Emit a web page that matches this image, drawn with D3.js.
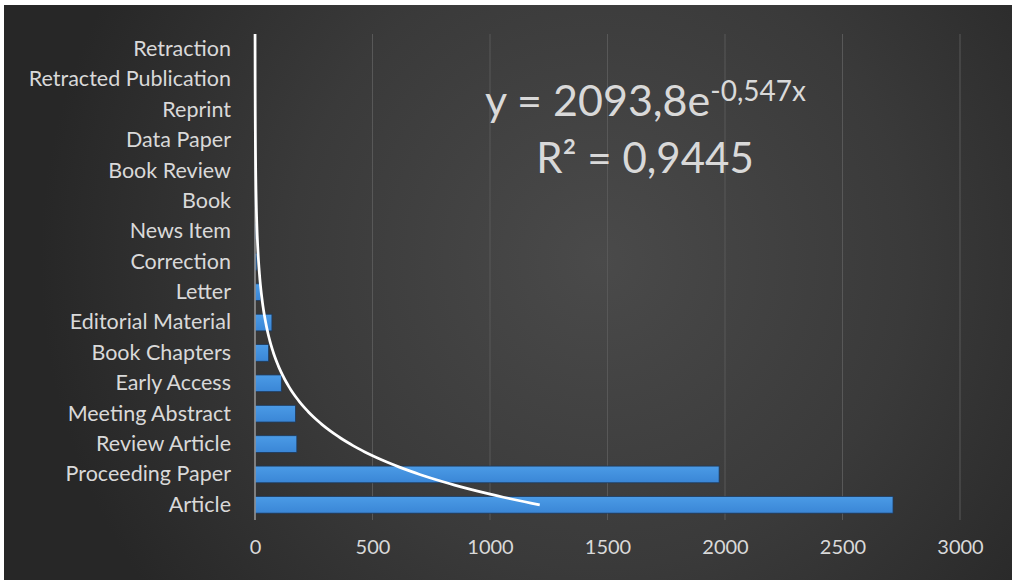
<!DOCTYPE html>
<html>
<head>
<meta charset="utf-8">
<script src="https://cdn.jsdelivr.net/npm/d3@7/dist/d3.min.js"></script>
<style>
  html, body { margin: 0; padding: 0; background: #ffffff; }
  svg { display: block; }
</style>
</head>
<body>
<svg id="chart" width="1012" height="580"></svg>
<script>
// ---- data ----
const categories = [
  "Article", "Proceeding Paper", "Review Article", "Meeting Abstract",
  "Early Access", "Book Chapters", "Editorial Material", "Letter",
  "Correction", "News Item", "Book", "Book Review", "Data Paper",
  "Reprint", "Retracted Publication", "Retraction"
];
const counts = [2715, 1975, 178, 172, 112, 58, 72, 24, 8, 6, 5, 4, 3, 2, 1, 1];
const xTicks = [0, 500, 1000, 1500, 2000, 2500, 3000];
const trendA = 2093.8;
const trendB = -0.547;
const r2 = "0,9445";

const svg = d3.select("#chart");
const W = 1012, H = 580;

// background with radial gradient
const defs = svg.append("defs");
const rg = defs.append("radialGradient").attr("id", "bg")
  .attr("gradientUnits", "userSpaceOnUse")
  .attr("cx", 600).attr("cy", 260).attr("r", 560);
rg.append("stop").attr("offset", "0%").attr("stop-color", "#4a4a4a");
rg.append("stop").attr("offset", "55%").attr("stop-color", "#3a3a3a");
rg.append("stop").attr("offset", "100%").attr("stop-color", "#272727");

const barGrad = defs.append("linearGradient").attr("id", "barg")
  .attr("x1", 0).attr("y1", 0).attr("x2", 0).attr("y2", 1);
barGrad.append("stop").attr("offset", "0%").attr("stop-color", "#4b9be6");
barGrad.append("stop").attr("offset", "100%").attr("stop-color", "#3a86d6");

svg.append("rect").attr("x", 0).attr("y", 0).attr("width", W).attr("height", H).attr("fill", "#ffffff");
svg.append("rect").attr("x", 4).attr("y", 5).attr("width", W - 4).attr("height", H - 5).attr("fill", "url(#bg)");

const x = d3.scaleLinear().domain([0, 3000]).range([255, 960]);
const y = d3.scaleBand().domain(categories).range([520, 34]).paddingInner(0.45).paddingOuter(0.225);
const yTop = 34, yBot = 520;

// gridlines
svg.append("g").selectAll("line").data(xTicks.slice(1)).join("line")
  .attr("x1", d => x(d)).attr("x2", d => x(d))
  .attr("y1", yTop).attr("y2", yBot)
  .attr("stroke", "#585858").attr("stroke-width", 1);

// bars
svg.append("g").selectAll("rect").data(categories).join("rect")
  .attr("x", x(0))
  .attr("y", d => y(d))
  .attr("width", (d, i) => Math.max(0, x(counts[i]) - x(0)))
  .attr("height", y.bandwidth())
  .attr("fill", "url(#barg)")
  .attr("stroke", "#1e3a5c").attr("stroke-width", 0.8);

// vertical axis line
svg.append("line").attr("x1", x(0)).attr("x2", x(0)).attr("y1", yTop).attr("y2", yBot)
  .attr("stroke", "#9a9a9a").attr("stroke-width", 1.5);

// category labels
const yAxis = d3.axisLeft(y).tickSize(0).tickPadding(24);
const gy = svg.append("g").attr("transform", `translate(${x(0)},0)`).call(yAxis);
gy.select(".domain").remove();
gy.selectAll("text")
  .attr("fill", "#d9d9d9")
  .attr("font-family", "Lato, 'Open Sans', sans-serif")
  .attr("font-size", "21.5px");

// x axis labels
const xAxis = d3.axisBottom(x).tickValues(xTicks).tickSize(0).tickPadding(20).tickFormat(d3.format("d"));
const gx = svg.append("g").attr("transform", `translate(0,${yBot})`).call(xAxis);
gx.select(".domain").remove();
gx.selectAll("text")
  .attr("fill", "#d9d9d9")
  .attr("font-family", "Lato, 'Open Sans', sans-serif")
  .attr("font-size", "20px");

// trendline (exponential, category index 1 = Article)
const catPos = i => {
  const c0 = y(categories[0]) + y.bandwidth() / 2;
  const step = y.step();
  return c0 - (i - 1) * step;
};
const tPts = d3.range(1, 16.5001, 0.05).map(t => [x(trendA * Math.exp(trendB * t)), catPos(t)]);
svg.append("path")
  .attr("d", d3.line().curve(d3.curveLinear)(tPts))
  .attr("fill", "none")
  .attr("stroke", "#ffffff")
  .attr("stroke-width", 2.75);

// equation
const eq = svg.append("text")
  .attr("x", 485).attr("y", 116)
  .attr("fill", "#d9d9d9")
  .attr("font-family", "Lato, 'Open Sans', sans-serif")
  .attr("font-size", "43px");
eq.append("tspan").text("y = " + String(trendA).replace(".", ",") + "e");
eq.append("tspan").attr("font-size", "28px").attr("dy", -15)
  .text(String(trendB).replace(".", ",") + "x");

const r = svg.append("text")
  .attr("x", 645).attr("y", 173)
  .attr("text-anchor", "middle")
  .attr("fill", "#d9d9d9")
  .attr("font-family", "Lato, 'Open Sans', sans-serif")
  .attr("font-size", "42px");
r.append("tspan").text("R² = " + r2);
</script>
</body>
</html>
